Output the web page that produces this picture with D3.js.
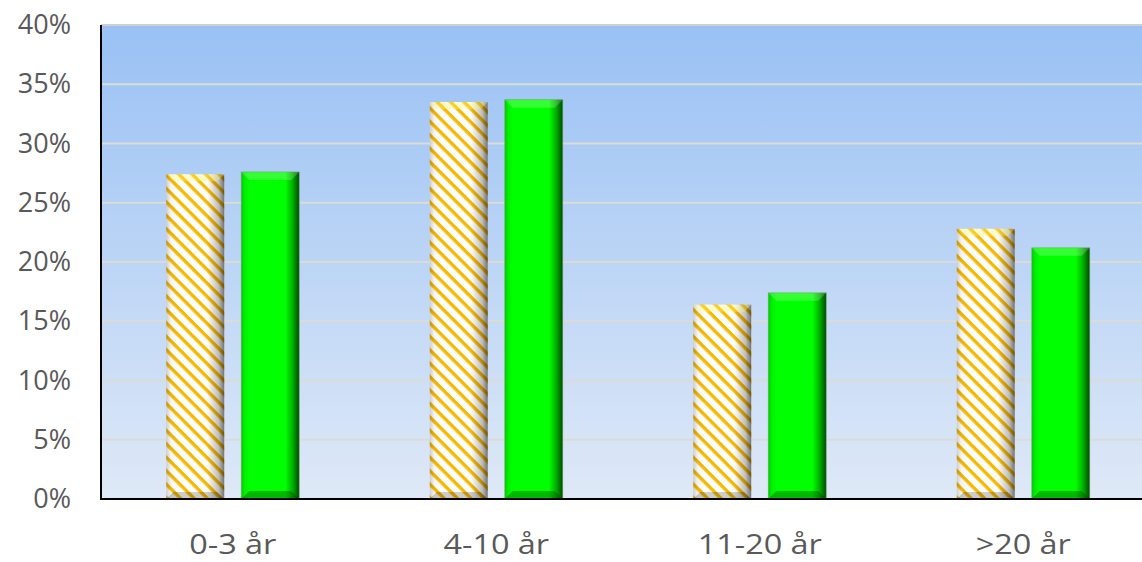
<!DOCTYPE html>
<html>
<head>
<meta charset="utf-8">
<script src="https://cdn.jsdelivr.net/npm/d3@7"></script>
<style>
  body { margin: 0; background: #fff; }
  svg { display: block; }
  .tick text { font-family: "Open Sans", sans-serif; fill: #595959; }
</style>
</head>
<body>
<svg id="chart" width="1142" height="562"></svg>
<script>
// chart data
var categories = ["0-3 år", "4-10 år", "11-20 år", ">20 år"];
var seriesNames = ["A", "B"];
var seriesA = [27.4, 33.5, 16.4, 22.8];   // hatched bars
var seriesB = [27.6, 33.7, 17.4, 21.2];   // green bars
var yTicks = [0, 5, 10, 15, 20, 25, 30, 35, 40];

var svg = d3.select("#chart");
var pLeft = 101, pTop = 25, pBottom = 499, pRight = 1155;

var x0 = d3.scaleBand().domain(categories).range([pLeft, pRight]);
var bw = x0.bandwidth();
var x1 = d3.scaleBand().domain(seriesNames)
    .range([bw / 2 - 66.5, bw / 2 + 66.5])
    .paddingInner(17 / 75);
var y = d3.scaleLinear().domain([0, 40]).range([pBottom, pTop]);

var defs = svg.append("defs");

// plot background
var bg = defs.append("linearGradient").attr("id", "bg")
    .attr("x1", 0).attr("y1", 0).attr("x2", 0).attr("y2", 1);
bg.append("stop").attr("offset", "0%").attr("stop-color", "#99c1f4");
bg.append("stop").attr("offset", "100%").attr("stop-color", "#dfe9f7");

// hatch pattern
var pat = defs.append("pattern").attr("id", "hatch")
    .attr("patternUnits", "userSpaceOnUse")
    .attr("width", 9.5).attr("height", 9.5)
    .attr("patternTransform", "rotate(45)");
pat.append("rect").attr("width", 9.5).attr("height", 9.5).attr("fill", "#ffffff");
pat.append("rect").attr("width", 9.5).attr("height", 3.4).attr("fill", "#f7b900");

// side shading for hatched bars
var shA = defs.append("linearGradient").attr("id", "shadeA");
[[0, 0.2], [0.08, 0.04], [0.2, 0], [0.7, 0], [0.9, 0.25], [1, 0.55]].forEach(function(s) {
    shA.append("stop").attr("offset", s[0]).attr("stop-color", "#000").attr("stop-opacity", s[1]);
});

// green bar fill
var gB = defs.append("linearGradient").attr("id", "greenB");
[[0, "#00c800"], [0.06, "#00f000"], [0.14, "#00ff00"], [0.76, "#00ff00"], [0.88, "#00b400"], [1, "#004a00"]].forEach(function(s) {
    gB.append("stop").attr("offset", s[0]).attr("stop-color", s[1]);
});

var plot = svg.append("g");
plot.append("rect")
    .attr("x", pLeft).attr("y", pTop)
    .attr("width", pRight - pLeft).attr("height", pBottom - pTop)
    .attr("fill", "url(#bg)");

// gridlines
plot.selectAll("line.grid")
    .data(yTicks.slice(1))
    .enter().append("line")
    .attr("class", "grid")
    .attr("x1", pLeft).attr("x2", pRight)
    .attr("y1", function(d) { return y(d); })
    .attr("y2", function(d) { return y(d); })
    .attr("stroke", function(d) { return d == 40 ? "#d0d0d0" : "#dcdcd6"; })
    .attr("stroke-width", 2);

// y axis
var yAxis = svg.append("g")
    .attr("transform", "translate(" + pLeft + ",0)")
    .call(d3.axisLeft(y).tickValues(yTicks).tickSize(0).tickPadding(30)
        .tickFormat(function(d) { return d + "%"; }));
yAxis.select(".domain").remove();
yAxis.selectAll("text").style("font-size", "27px");

// x axis
var xAxis = svg.append("g")
    .attr("transform", "translate(0," + pBottom + ")")
    .call(d3.axisBottom(x0).tickSize(0).tickPadding(36));
xAxis.select(".domain").remove();
xAxis.selectAll("text").style("font-size", "27px")
    .attr("transform", "scale(1.2,1)");

function bevel(g, bx, by, w, h, b, topCol, topOp, botCol, botOp) {
    g.append("path")
        .attr("d", "M" + bx + "," + by + "L" + (bx + w) + "," + by +
            "L" + (bx + w - b) + "," + (by + b) + "L" + (bx + b) + "," + (by + b) + "Z")
        .attr("fill", topCol).attr("fill-opacity", topOp);
    g.append("path")
        .attr("d", "M" + bx + "," + (by + h) + "L" + (bx + w) + "," + (by + h) +
            "L" + (bx + w - b) + "," + (by + h - b) + "L" + (bx + b) + "," + (by + h - b) + "Z")
        .attr("fill", botCol).attr("fill-opacity", botOp);
}

var groups = svg.selectAll("g.cat")
    .data(categories)
    .enter().append("g")
    .attr("class", "cat")
    .attr("transform", function(d) { return "translate(" + x0(d) + ",0)"; });

groups.each(function(c, i) {
    var g = d3.select(this);
    // hatched bar
    var ax = x1("A"), ay = y(seriesA[i]), aw = x1.bandwidth(), ah = pBottom - y(seriesA[i]);
    g.append("rect").attr("x", ax).attr("y", ay).attr("width", aw).attr("height", ah)
        .attr("fill", "url(#hatch)");
    g.append("rect").attr("x", ax).attr("y", ay).attr("width", aw).attr("height", ah)
        .attr("fill", "url(#shadeA)");
    bevel(g, ax, ay, aw, ah, 7, "#fff36a", 0.35, "#000", 0.2);

    // green bar
    var bx = x1("B"), by = y(seriesB[i]), bh = pBottom - y(seriesB[i]);
    g.append("rect").attr("x", bx).attr("y", by).attr("width", aw).attr("height", bh)
        .attr("fill", "url(#greenB)");
    bevel(g, bx, by, aw, bh, 8, "#ffffff", 0.2, "#003300", 0.35);
    g.append("rect").attr("x", bx).attr("y", by).attr("width", aw).attr("height", bh)
        .attr("fill", "none").attr("stroke", "#6fa36f").attr("stroke-width", 0.8).attr("stroke-opacity", 0.6);
});

// axis lines
svg.append("line").attr("x1", pLeft).attr("x2", pLeft).attr("y1", pTop).attr("y2", pBottom + 1)
    .attr("stroke", "#000").attr("stroke-width", 2);
svg.append("line").attr("x1", pLeft).attr("x2", pRight).attr("y1", pBottom).attr("y2", pBottom)
    .attr("stroke", "#000").attr("stroke-width", 2);
</script>
</body>
</html>
